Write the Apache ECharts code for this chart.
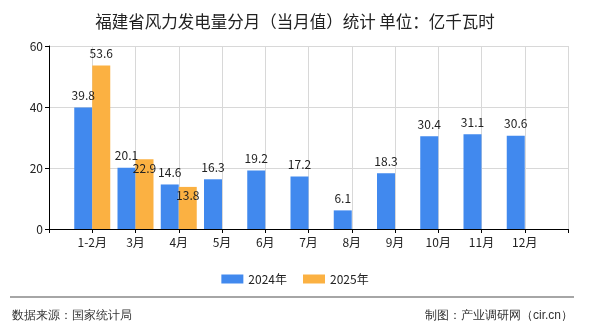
<!DOCTYPE html>
<html>
<head>
<meta charset="utf-8">
<script src="https://cdn.jsdelivr.net/npm/echarts@6/dist/echarts.min.js"></script>
<style>
html,body{margin:0;padding:0;background:#fff;}
#c{width:590px;height:330px;}
</style>
</head>
<body>
<div id="c"></div>
<script>
const categories = ['1-2月','3月','4月','5月','6月','7月','8月','9月','10月','11月','12月'];
const values2024 = [39.8, 20.1, 14.6, 16.3, 19.2, 17.2, 6.1, 18.3, 30.4, 31.1, 30.6];
const values2025 = [53.6, 22.9, 13.8];
const seriesNames = ['2024年', '2025年'];
const yTicks = [0, 20, 40, 60];

const FONT = '"Noto Sans CJK SC", "Noto Sans", sans-serif';
const axisData = [''].concat(categories, ['']);
function pad(arr) {
  const out = [null];
  for (let i = 0; i < categories.length; i++) out.push(i < arr.length ? arr[i] : null);
  out.push(null);
  return out;
}
const d2024 = pad(values2024);
const d2025 = pad(values2025).map(function (v, i) {
  if (v == null) return null;
  const other = d2024[i];
  if (other != null && Math.abs(other - v) < 10) {
    return { value: v, label: { position: 'insideTop', distance: 3 } };
  }
  return v;
});

const chart = echarts.init(document.getElementById('c'));
chart.setOption({
  animation: false,
  backgroundColor: '#fff',
  textStyle: { fontFamily: FONT },
  title: {
    text: '福建省风力发电量分月（当月值）统计 单位：亿千瓦时',
    left: 'center',
    top: 8,
    textStyle: { fontSize: 16.5, fontWeight: 'normal', color: '#222', fontFamily: FONT }
  },
  legend: {
    data: seriesNames,
    left: 'center',
    top: 268,
    itemWidth: 22,
    itemHeight: 9,
    itemGap: 16,
    icon: 'rect',
    textStyle: { fontSize: 12, color: '#222', fontFamily: FONT }
  },
  grid: { left: 49, right: 22, top: 46, bottom: 101, containLabel: false },
  xAxis: {
    type: 'category',
    data: axisData,
    boundaryGap: false,
    axisLine: { lineStyle: { color: '#000', width: 1 } },
    axisTick: { show: true, length: 4, interval: 0, lineStyle: { color: '#000' } },
    axisLabel: { interval: 0, fontSize: 12, color: '#222', margin: 7, fontFamily: FONT },
    splitLine: { show: true, interval: 0, lineStyle: { color: '#d8d8d8', width: 1 } }
  },
  yAxis: {
    type: 'value',
    min: yTicks[0],
    max: yTicks[yTicks.length - 1],
    interval: 20,
    axisLine: { show: true, lineStyle: { color: '#000', width: 1 } },
    axisTick: { show: true, length: 4, lineStyle: { color: '#000' } },
    axisLabel: { fontSize: 12, color: '#222', margin: 6, fontFamily: FONT },
    splitLine: { show: true, lineStyle: { color: '#d8d8d8', width: 1 } }
  },
  series: [
    {
      name: seriesNames[0],
      type: 'bar',
      data: d2024,
      barWidth: 18,
      barGap: '0%',
      itemStyle: { color: '#4189EE' },
      label: { show: true, position: 'top', distance: 6, fontSize: 12, color: '#222', fontFamily: FONT }
    },
    {
      name: seriesNames[1],
      type: 'bar',
      data: d2025,
      barWidth: 18,
      barGap: '0%',
      itemStyle: { color: '#FBB142' },
      label: { show: true, position: 'top', distance: 6, fontSize: 12, color: '#222', fontFamily: FONT }
    }
  ],
  graphic: [
    {
      type: 'line',
      shape: { x1: 10, y1: 297, x2: 574, y2: 297 },
      style: { stroke: '#888', lineWidth: 1.5 }
    },
    {
      type: 'text',
      left: 12,
      top: 310,
      style: { text: '数据来源：国家统计局', fontSize: 12, fill: '#333', font: '12px ' + FONT }
    },
    {
      type: 'text',
      right: 17,
      top: 310,
      style: { text: '制图：产业调研网（cir.cn）', fontSize: 12, fill: '#333', font: '12px ' + FONT }
    }
  ]
});
</script>
</body>
</html>
